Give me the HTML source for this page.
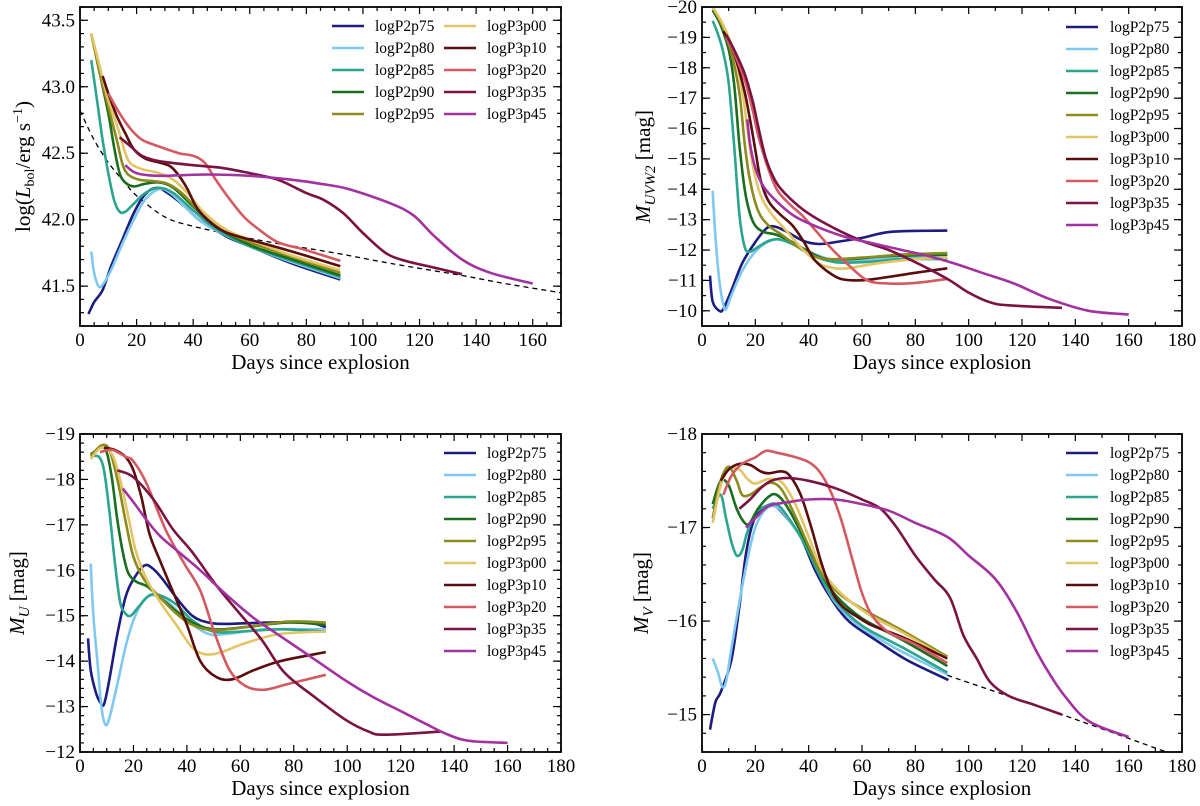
<!DOCTYPE html>
<html><head><meta charset="utf-8"><style>
html,body{margin:0;padding:0;background:#fff;}
svg{display:block;font-family:"Liberation Serif",serif;}
</style></head><body>
<svg id="chart" width="1200" height="806" viewBox="0 0 1200 806" xmlns="http://www.w3.org/2000/svg"></svg>
<script>
const seriesNames = ["logP2p75","logP2p80","logP2p85","logP2p90","logP2p95","logP3p00","logP3p10","logP3p20","logP3p35","logP3p45"];
const seriesColors = ["#1c1c82","#7fc9f0","#2ba58e","#1b6d1f","#8b8b1e","#e3c565","#5b0c0c","#d45a62","#7a1242","#a2329f"];
const xTicks = [0,20,40,60,80,100,120,140,160,180];

// Panel 1: log L_bol
const lbolP2p75 = [[3,41.29],[5,41.38],[8,41.47],[11,41.65],[15,41.85],[19,42.05],[23,42.19],[27,42.24],[31,42.2],[37,42.1],[42,42.0],[48,41.92],[53,41.86],[60,41.8],[75,41.67],[92,41.55]];
const lbolP2p80 = [[4,41.76],[5,41.6],[6.5,41.5],[8,41.51],[11,41.62],[15,41.82],[19,42.0],[23,42.15],[28,42.23],[32,42.2],[37,42.1],[42,42.0],[48,41.92],[60,41.8],[75,41.68],[92,41.56]];
const lbolP2p85 = [[4,43.2],[6,42.9],[8,42.6],[10,42.35],[12,42.15],[14,42.06],[16,42.06],[19,42.12],[23,42.2],[28,42.24],[33,42.2],[40,42.07],[48,41.93],[60,41.8],[75,41.69],[92,41.57]];
const lbolP2p90 = [[4,43.4],[7,43.1],[10,42.8],[12,42.55],[14,42.35],[16,42.28],[19,42.25],[23,42.27],[28,42.28],[33,42.24],[40,42.1],[48,41.95],[60,41.81],[75,41.7],[92,41.58]];
const lbolP2p95 = [[4,43.4],[7,43.1],[10,42.85],[13,42.6],[15,42.42],[17,42.34],[21,42.3],[26,42.29],[31,42.27],[36,42.2],[42,42.07],[50,41.93],[60,41.83],[75,41.72],[92,41.6]];
const lbolP3p00 = [[4,43.4],[7,43.15],[10,42.9],[14,42.65],[16,42.5],[18,42.42],[22,42.38],[28,42.35],[33,42.3],[38,42.2],[44,42.05],[52,41.92],[60,41.85],[75,41.73],[92,41.62]];
const lbolP3p10 = [[8,43.08],[10,42.95],[13,42.78],[16,42.65],[19,42.53],[23,42.46],[28,42.43],[32,42.4],[35,42.33],[38,42.23],[41,42.1],[45,42.0],[50,41.92],[55,41.88],[60,41.85],[75,41.76],[92,41.65]];
const lbolP3p20 = [[10,42.95],[14,42.8],[18,42.68],[22,42.6],[28,42.55],[35,42.5],[40,42.48],[44,42.43],[48,42.3],[53,42.15],[58,42.02],[63,41.93],[70,41.83],[80,41.77],[92,41.69]];
const lbolP3p35 = [[14,42.62],[18,42.55],[22,42.48],[28,42.44],[40,42.41],[50,42.39],[60,42.35],[70,42.3],[80,42.2],[86,42.15],[93,42.05],[100,41.9],[108,41.75],[115,41.69],[125,41.64],[135,41.59]];
const lbolP3p45 = [[16,42.41],[20,42.35],[28,42.33],[45,42.34],[60,42.33],[75,42.3],[85,42.27],[95,42.23],[110,42.12],[118,42.03],[125,41.88],[135,41.7],[145,41.6],[160,41.52]];
const lbolDecay = [[0,42.82],[5,42.6],[10,42.43],[15,42.3],[20,42.18],[30,42.02],[40,41.95],[55,41.88],[70,41.82],[90,41.75],[110,41.67],[135,41.58],[150,41.52],[170,41.45]];
const lbolTicks = [41.5,42.0,42.5,43.0,43.5];

// Panel 2: UVW2
const uvwP2p75 = [[3,-11.16],[4,-10.3],[6.5,-10.0],[8,-10.06],[11,-10.66],[15,-11.55],[19.5,-12.2],[24,-12.7],[27,-12.78],[31,-12.64],[38,-12.3],[44,-12.2],[50,-12.26],[60,-12.4],[71,-12.6],[92,-12.64]];
const uvwP2p80 = [[4,-13.95],[5,-12.5],[6.5,-11],[8,-10.2],[9,-10.05],[11,-10.5],[15,-11.3],[20,-11.95],[25,-12.28],[29,-12.35],[35,-12.2],[40,-11.95],[48,-11.7],[56,-11.65],[70,-11.75],[92,-11.8]];
const uvwP2p85 = [[4,-19.55],[6,-19.1],[8,-18.5],[10,-17.5],[12,-15.5],[14,-13.2],[16,-12.1],[18,-11.95],[21,-12.1],[25,-12.3],[29,-12.35],[35,-12.15],[42,-11.8],[50,-11.6],[60,-11.6],[75,-11.7],[92,-11.7]];
const uvwP2p90 = [[4,-19.9],[7,-19.4],[10,-18.6],[12,-17.5],[14,-15.5],[16,-14],[18,-13.2],[20,-12.8],[23,-12.6],[28,-12.5],[33,-12.3],[40,-11.95],[46,-11.72],[55,-11.7],[70,-11.8],[92,-11.85]];
const uvwP2p95 = [[4,-20],[8,-19.3],[11,-18.5],[14,-17.2],[16,-15.5],[18,-14.3],[21,-13.3],[25,-12.8],[30,-12.5],[36,-12.1],[42,-11.8],[48,-11.7],[60,-11.75],[75,-11.85],[92,-11.9]];
const uvwP3p00 = [[4,-20],[8,-19.4],[12,-18.5],[15,-17.3],[17,-16],[19,-14.8],[22,-13.8],[26,-13.2],[32,-12.6],[38,-12.0],[44,-11.55],[50,-11.4],[55,-11.4],[65,-11.55],[80,-11.7],[92,-11.75]];
const uvwP3p10 = [[8,-19.2],[10,-18.9],[13,-18.2],[16,-17.2],[18,-16.3],[20,-15.3],[22,-14.3],[25,-13.6],[29,-13.2],[34,-12.8],[38,-12.3],[42,-11.7],[47,-11.3],[52,-11.05],[58,-11.0],[65,-11.05],[80,-11.25],[92,-11.4]];
const uvwP3p20 = [[9,-19.0],[12,-18.5],[16,-17.6],[19,-16.6],[21,-15.8],[24,-14.9],[28,-14.0],[33,-13.5],[38,-13.1],[43,-12.6],[48,-12.1],[55,-11.5],[62,-11.0],[70,-10.9],[80,-10.92],[92,-11.05]];
const uvwP3p35 = [[9,-19.1],[12,-18.6],[16,-17.8],[19,-16.9],[21,-16.1],[24,-15],[28,-14.2],[33,-13.7],[40,-13.2],[50,-12.7],[60,-12.3],[70,-12.0],[80,-11.6],[92,-11.05],[100,-10.6],[108,-10.28],[115,-10.18],[135,-10.1]];
const uvwP3p45 = [[17,-16.3],[18,-15.5],[20,-14.7],[23,-14.1],[28,-13.6],[35,-13.1],[45,-12.7],[55,-12.4],[65,-12.2],[75,-12.0],[85,-11.8],[95,-11.55],[105,-11.25],[117,-10.9],[130,-10.4],[145,-10.0],[160,-9.88]];
const uvwTicks = [-10,-11,-12,-13,-14,-15,-16,-17,-18,-19,-20];

// Panel 3: U
const uP2p75 = [[3,-14.5],[4,-13.8],[6,-13.3],[7.5,-13.1],[9,-13.05],[11,-13.6],[14,-14.6],[17,-15.4],[20,-15.8],[24,-16.1],[27,-16.05],[31,-15.8],[36,-15.4],[42,-15.0],[48,-14.85],[55,-14.82],[70,-14.85],[85,-14.85],[92,-14.75]];
const uP2p80 = [[4,-16.15],[5,-15],[6.5,-14],[8,-13],[9.5,-12.6],[11,-12.75],[14,-13.5],[17,-14.3],[20,-14.9],[24,-15.35],[28,-15.45],[33,-15.3],[40,-14.9],[48,-14.6],[55,-14.6],[70,-14.7],[92,-14.7]];
const uP2p85 = [[4,-18.5],[7,-18.5],[9,-18.2],[11,-17.3],[13,-16.2],[15,-15.3],[17,-15.05],[19,-15.0],[22,-15.2],[26,-15.45],[30,-15.45],[36,-15.25],[42,-14.9],[50,-14.65],[60,-14.65],[75,-14.7],[92,-14.65]];
const uP2p90 = [[4,-18.55],[8,-18.7],[10,-18.6],[12,-18.0],[14,-17.1],[16,-16.4],[18,-15.95],[21,-15.75],[25,-15.65],[30,-15.4],[36,-15.1],[42,-14.85],[50,-14.7],[62,-14.75],[78,-14.85],[92,-14.8]];
const uP2p95 = [[4,-18.5],[8,-18.75],[11,-18.65],[14,-18.0],[17,-17.1],[20,-16.3],[24,-15.8],[30,-15.4],[36,-15.05],[42,-14.8],[50,-14.68],[62,-14.75],[78,-14.87],[92,-14.85]];
const uP3p00 = [[4,-18.45],[8,-18.7],[12,-18.55],[15,-18.0],[18,-17.2],[21,-16.4],[25,-15.8],[30,-15.3],[36,-14.8],[42,-14.3],[47,-14.15],[53,-14.2],[62,-14.4],[75,-14.6],[92,-14.65]];
const uP3p10 = [[9,-18.7],[13,-18.65],[17,-18.5],[20,-18.2],[23,-17.6],[26,-16.8],[30,-16.2],[35,-15.5],[40,-14.8],[45,-14.0],[51,-13.65],[57,-13.6],[65,-13.8],[75,-14.0],[92,-14.2]];
const uP3p20 = [[7.5,-18.6],[12,-18.65],[17,-18.5],[20,-18.4],[25,-17.9],[32,-16.9],[39,-16.15],[45,-15.55],[50.5,-14.6],[56,-13.8],[62,-13.45],[69,-13.37],[78,-13.5],[92,-13.7]];
const uP3p35 = [[14,-18.2],[20,-18.05],[27.6,-17.55],[34.8,-16.9],[42,-16.4],[50.6,-15.7],[59,-15.1],[68,-14.47],[76.5,-13.75],[88,-13.2],[99.6,-12.7],[108,-12.45],[114,-12.38],[135,-12.45]];
const uP3p45 = [[16,-17.8],[20,-17.5],[25,-17.1],[30,-16.75],[38,-16.35],[45,-16.0],[55,-15.45],[65,-14.95],[75,-14.55],[90,-13.95],[100,-13.55],[110,-13.2],[120,-12.9],[130,-12.6],[137,-12.4],[145,-12.25],[160,-12.2]];
const uTicks = [-12,-13,-14,-15,-16,-17,-18,-19];

// Panel 4: V
const vP2p75 = [[3,-14.84],[5,-15.13],[7,-15.24],[11,-15.58],[14,-16.15],[16.5,-16.72],[19.5,-17.08],[24,-17.22],[27,-17.24],[31,-17.13],[37,-16.9],[42.5,-16.54],[48,-16.26],[55,-16.0],[65,-15.8],[77,-15.58],[92.4,-15.37]];
const vP2p80 = [[4,-15.6],[6,-15.45],[7.5,-15.3],[9,-15.35],[11,-15.7],[14,-16.2],[17,-16.65],[20,-17.0],[24,-17.2],[28,-17.22],[32,-17.1],[38,-16.85],[44,-16.5],[50,-16.2],[58,-15.97],[70,-15.75],[80,-15.6],[92,-15.43]];
const vP2p85 = [[4,-17.2],[7,-17.35],[9,-17.1],[11,-16.85],[13,-16.7],[15,-16.75],[17,-16.95],[20,-17.15],[24,-17.23],[28,-17.25],[32,-17.12],[38,-16.85],[44,-16.5],[50,-16.22],[60,-15.95],[75,-15.72],[92,-15.45]];
const vP2p90 = [[4,-17.25],[7,-17.5],[10,-17.45],[13,-17.2],[16,-17.05],[18,-17.05],[21,-17.2],[25,-17.33],[28,-17.35],[32,-17.22],[38,-16.9],[44,-16.55],[50,-16.28],[60,-16.03],[75,-15.8],[92,-15.52]];
const vP2p95 = [[4,-17.1],[7,-17.5],[10,-17.65],[13,-17.5],[15,-17.35],[18,-17.35],[22,-17.43],[26,-17.48],[30,-17.4],[35,-17.12],[40,-16.8],[45,-16.5],[52,-16.28],[62,-16.1],[75,-15.9],[92,-15.62]];
const vP3p00 = [[4,-17.05],[7,-17.45],[10,-17.62],[14,-17.62],[17,-17.52],[20,-17.47],[25,-17.52],[30,-17.48],[35,-17.25],[40,-16.9],[45,-16.55],[52,-16.3],[62,-16.08],[75,-15.88],[92,-15.6]];
const vP3p10 = [[7,-17.5],[10,-17.62],[14,-17.68],[18,-17.67],[22,-17.6],[25,-17.58],[30,-17.6],[33,-17.55],[37,-17.35],[41,-17.0],[45,-16.6],[49,-16.3],[53,-16.15],[58,-16.05],[64,-15.95],[75,-15.83],[92,-15.6]];
const vP3p20 = [[8,-17.35],[11,-17.55],[15,-17.68],[20,-17.75],[24,-17.82],[28,-17.8],[34,-17.76],[40,-17.7],[44,-17.6],[48,-17.4],[52,-17.1],[56,-16.7],[60,-16.3],[64,-16.05],[70,-15.88],[80,-15.75],[92,-15.55]];
const vP3p35 = [[14,-17.2],[18,-17.3],[22,-17.42],[26,-17.5],[32,-17.53],[40,-17.5],[50,-17.42],[60,-17.3],[67,-17.2],[73,-17.0],[80,-16.7],[87,-16.45],[93,-16.25],[98,-15.85],[103,-15.6],[108,-15.35],[115,-15.2],[125,-15.1],[135,-15.0]];
const vP3p45 = [[16.5,-17.0],[20,-17.1],[25,-17.23],[32,-17.27],[40,-17.3],[50,-17.3],[60,-17.25],[70,-17.18],[80,-17.05],[92,-16.9],[100,-16.7],[110,-16.45],[118,-16.1],[125,-15.7],[130,-15.45],[136,-15.2],[145,-14.93],[160,-14.76]];
const vDecay = [[92,-15.42],[135,-15.0],[178,-14.56]];
const vTicks = [-15,-16,-17,-18];

const NS = "http://www.w3.org/2000/svg";
const svg = document.getElementById('chart');
function mk(tag, attrs, parent){ const e=document.createElementNS(NS,tag); for(const k in attrs) e.setAttribute(k,attrs[k]); (parent||svg).appendChild(e); return e; }

const panels = [
 {id:'lbol', x0:80, x1:561, y0:7, y1:326, xmax:170, xMinor:5, vmin:41.2, vmax:43.6, invert:false, yTicks:lbolTicks, yMinor:0.1, fmt:v=>v.toFixed(1),
  series:[lbolP2p75,lbolP2p80,lbolP2p85,lbolP2p90,lbolP2p95,lbolP3p00,lbolP3p10,lbolP3p20,lbolP3p35,lbolP3p45], decay:lbolDecay,
  legend:{cols:2, lx:[332,444], tx:[375,487], y0:26, dy:22}, ylabX:30, ylab:'lbol'},
 {id:'uvw2', x0:702, x1:1182, y0:7, y1:326, xmax:180, xMinor:10, vmin:-20, vmax:-9.5, invert:true, yTicks:uvwTicks, yMinor:0.5, fmt:v=>'\u2212'+Math.abs(v),
  series:[uvwP2p75,uvwP2p80,uvwP2p85,uvwP2p90,uvwP2p95,uvwP3p00,uvwP3p10,uvwP3p20,uvwP3p35,uvwP3p45], decay:null,
  legend:{cols:1, lx:[1066], tx:[1110], y0:27, dy:22}, ylabX:650, ylab:'UVW2'},
 {id:'u', x0:80, x1:561, y0:434, y1:752, xmax:180, xMinor:5, vmin:-19, vmax:-12, invert:true, yTicks:uTicks, yMinor:0.2, fmt:v=>'\u2212'+Math.abs(v),
  series:[uP2p75,uP2p80,uP2p85,uP2p90,uP2p95,uP3p00,uP3p10,uP3p20,uP3p35,uP3p45], decay:null,
  legend:{cols:1, lx:[444], tx:[487], y0:453, dy:22}, ylabX:24, ylab:'U'},
 {id:'v', x0:702, x1:1182, y0:434, y1:752, xmax:180, xMinor:10, vmin:-18, vmax:-14.6, invert:true, yTicks:vTicks, yMinor:0.2, fmt:v=>'\u2212'+Math.abs(v),
  series:[vP2p75,vP2p80,vP2p85,vP2p90,vP2p95,vP3p00,vP3p10,vP3p20,vP3p35,vP3p45], decay:vDecay,
  legend:{cols:1, lx:[1066], tx:[1110], y0:453, dy:22}, ylabX:648, ylab:'V'}
];

function smoothPath(pts){
  if(pts.length<2) return '';
  let d='M'+pts[0][0].toFixed(1)+','+pts[0][1].toFixed(1);
  for(let i=0;i<pts.length-1;i++){
    const p0=pts[Math.max(0,i-1)], p1=pts[i], p2=pts[i+1], p3=pts[Math.min(pts.length-1,i+2)];
    const c1x=p1[0]+(p2[0]-p0[0])/6, c1y=p1[1]+(p2[1]-p0[1])/6;
    const c2x=p2[0]-(p3[0]-p1[0])/6, c2y=p2[1]-(p3[1]-p1[1])/6;
    d+=' C'+c1x.toFixed(1)+','+c1y.toFixed(1)+' '+c2x.toFixed(1)+','+c2y.toFixed(1)+' '+p2[0].toFixed(1)+','+p2[1].toFixed(1);
  }
  return d;
}

panels.forEach((P,pi)=>{
  const g = mk('g',{});
  
  
  const xs = d => P.x0 + d/P.xmax*(P.x1-P.x0);
  const ys = v => P.invert ? P.y0 + (v-P.vmin)/(P.vmax-P.vmin)*(P.y1-P.y0) : P.y1 - (v-P.vmin)/(P.vmax-P.vmin)*(P.y1-P.y0);
  const clip = mk('clipPath',{id:'clip'+pi}, g);
  mk('rect',{x:P.x0,y:P.y0,width:P.x1-P.x0,height:P.y1-P.y0}, clip);
  const tg = mk('g',{stroke:'#000','stroke-width':1.2}, g);
  
  
  for(let d=0; d<=P.xmax+0.01; d+=P.xMinor){
    const X=xs(d), major = d%20===0, L = major?7:4;
    mk('line',{x1:X,x2:X,y1:P.y1,y2:P.y1-L},tg); mk('line',{x1:X,x2:X,y1:P.y0,y2:P.y0+L},tg);
  }
  const lo=Math.min(P.vmin,P.vmax), hi=Math.max(P.vmin,P.vmax);
  for(let v=Math.ceil(lo/P.yMinor-1e-6)*P.yMinor; v<=hi+1e-6; v+=P.yMinor){
    const Y=ys(v); mk('line',{x1:P.x0,x2:P.x0+4,y1:Y,y2:Y},tg); mk('line',{x1:P.x1,x2:P.x1-4,y1:Y,y2:Y},tg);
  }
  xTicks.forEach(d=>{ if(d>P.xmax) return;
    const t=mk('text',{x:xs(d),y:P.y1+20,'text-anchor':'middle','font-size':19,fill:'#000'},g); t.textContent=d;
     
  });
  P.yTicks.forEach(v=>{
    const Y=ys(v); mk('line',{x1:P.x0,x2:P.x0+8,y1:Y,y2:Y},tg); mk('line',{x1:P.x1,x2:P.x1-8,y1:Y,y2:Y},tg);
    const t=mk('text',{x:P.x0-5,y:Y+6,'text-anchor':'end','font-size':19,fill:'#000'},g); t.textContent=P.fmt(v);
     
  });
  const xl=mk('text',{x:(P.x0+P.x1)/2,y:P.y1+43,'text-anchor':'middle','font-size':21,fill:'#000'},g);
  xl.textContent='Days since explosion';
   
  const yc=(P.y0+P.y1)/2;
  const yl=mk('text',{x:P.ylabX,y:yc,'text-anchor':'middle','font-size':21,fill:'#000',transform:'rotate(-90 '+P.ylabX+' '+yc+')'},g);
   
  if(P.ylab==='lbol'){
    yl.innerHTML='log(<tspan font-style="italic">L</tspan><tspan font-size="14" dy="4">bol</tspan><tspan dy="-4">/erg s</tspan><tspan font-size="14" dy="-8">\u22121</tspan><tspan dy="8">)</tspan>';
  } else {
    yl.innerHTML='<tspan font-style="italic">M</tspan><tspan font-size="15" font-style="italic" dy="5">'+P.ylab+'</tspan><tspan dy="-5"> [mag]</tspan>';
  }
  const sg = mk('g',{'clip-path':'url(#clip'+pi+')',fill:'none'}, g);
  if(P.decay){
    const dp = mk('path',{d:smoothPath(P.decay.map(p=>[xs(p[0]),ys(p[1])])),stroke:'#000','stroke-width':1.3,'stroke-dasharray':'5,4'},sg);
     
  }
  P.series.forEach((s,si)=>{
    const p = mk('path',{d:smoothPath(s.map(q=>[xs(q[0]),ys(q[1])])),stroke:seriesColors[si],'stroke-width':2.6,'stroke-linejoin':'round'},sg);
     
  });
  mk('rect',{x:P.x0,y:P.y0,width:P.x1-P.x0,height:P.y1-P.y0,fill:'none',stroke:'#000','stroke-width':1.8},g);
  const lg = mk('g',{},g);
   
  seriesNames.forEach((n,i)=>{
    const col = P.legend.cols===2 ? Math.floor(i/5) : 0;
    const row = P.legend.cols===2 ? i%5 : i;
    const Y = P.legend.y0 + row*P.legend.dy;
    const e = mk('g',{},lg);
     
    mk('line',{x1:P.legend.lx[col],x2:P.legend.lx[col]+32,y1:Y,y2:Y,stroke:seriesColors[i],'stroke-width':2.6},e);
    const t=mk('text',{x:P.legend.tx[col],y:Y+5,'font-size':15.5,fill:'#000'},e); t.textContent=n;
  });
});
</script>
</body></html>
